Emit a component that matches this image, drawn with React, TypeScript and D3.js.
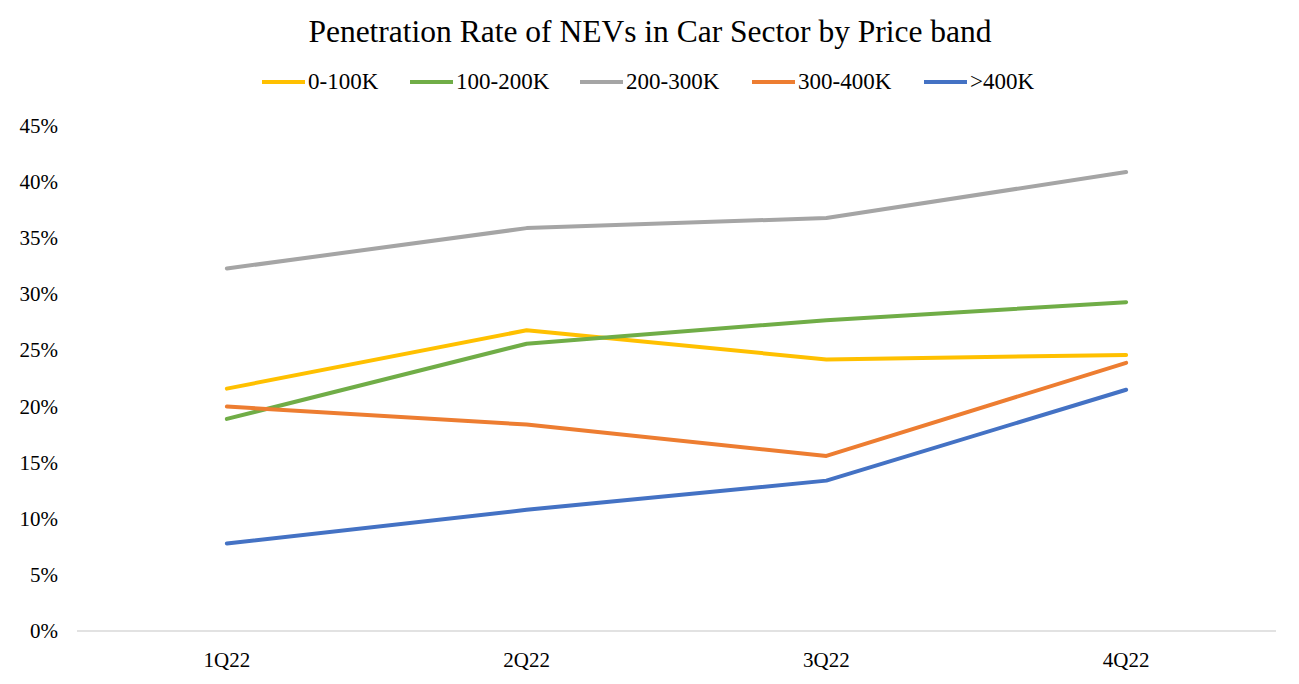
import React from "react";
import * as d3 from "d3";

const categories = ["1Q22", "2Q22", "3Q22", "4Q22"];
const seriesNames = ["0-100K", "100-200K", "200-300K", "300-400K", ">400K"];
const seriesColors = ["#FFC000", "#70AD47", "#A5A5A5", "#ED7D31", "#4472C4"];
const band0to100 = [21.6, 26.8, 24.2, 24.6];
const band100to200 = [18.9, 25.6, 27.7, 29.3];
const band200to300 = [32.3, 35.9, 36.8, 40.9];
const band300to400 = [20.0, 18.4, 15.6, 23.9];
const bandOver400 = [7.8, 10.8, 13.4, 21.5];
const yTicks = [0, 5, 10, 15, 20, 25, 30, 35, 40, 45];

const seriesValues = [band0to100, band100to200, band200to300, band300to400, bandOver400];
const legendX = [262, 410, 580, 752, 924];

const W = 1299;
const H = 684;
const FONT = "'Liberation Serif', 'DejaVu Serif', serif";

export default function App() {
  const x = d3.scaleBand<string>().domain(categories).range([77, 1276]);
  const y = d3.scaleLinear().domain([0, 45]).range([631, 126]);
  const line = d3
    .line<number>()
    .x((_, i) => (x(categories[i]) as number) + x.bandwidth() / 2)
    .y((d) => y(d));

  return (
    <div style={{ position: "fixed", left: 0, top: 0 }}>
      <svg width={W} height={H} style={{ display: "block", background: "#fff" }}>
        <text x={650} y={42} textAnchor="middle" fontFamily={FONT} fontSize={31.5} fill="#000">
          Penetration Rate of NEVs in Car Sector by Price band
        </text>
        {seriesNames.map((n, i) => (
          <g key={n}>
            <line x1={legendX[i]} x2={legendX[i] + 43} y1={82} y2={82} stroke={seriesColors[i]} strokeWidth={4} />
            <text x={legendX[i] + 46} y={89} fontFamily={FONT} fontSize={23} fill="#000">
              {n}
            </text>
          </g>
        ))}
        {yTicks.map((t) => (
          <text key={t} x={58} y={y(t) + 7} textAnchor="end" fontFamily={FONT} fontSize={21} fill="#000">
            {t}%
          </text>
        ))}
        <line x1={77} x2={1276} y1={y(0)} y2={y(0)} stroke="#d9d9d9" strokeWidth={1.5} />
        {categories.map((c) => (
          <text
            key={c}
            x={(x(c) as number) + x.bandwidth() / 2}
            y={667}
            textAnchor="middle"
            fontFamily={FONT}
            fontSize={21}
            fill="#000"
          >
            {c}
          </text>
        ))}
        {seriesValues.map((vals, i) => (
          <path
            key={seriesNames[i]}
            d={line(vals) || ""}
            fill="none"
            stroke={seriesColors[i]}
            strokeWidth={4}
            strokeLinejoin="round"
            strokeLinecap="round"
          />
        ))}
      </svg>
    </div>
  );
}
